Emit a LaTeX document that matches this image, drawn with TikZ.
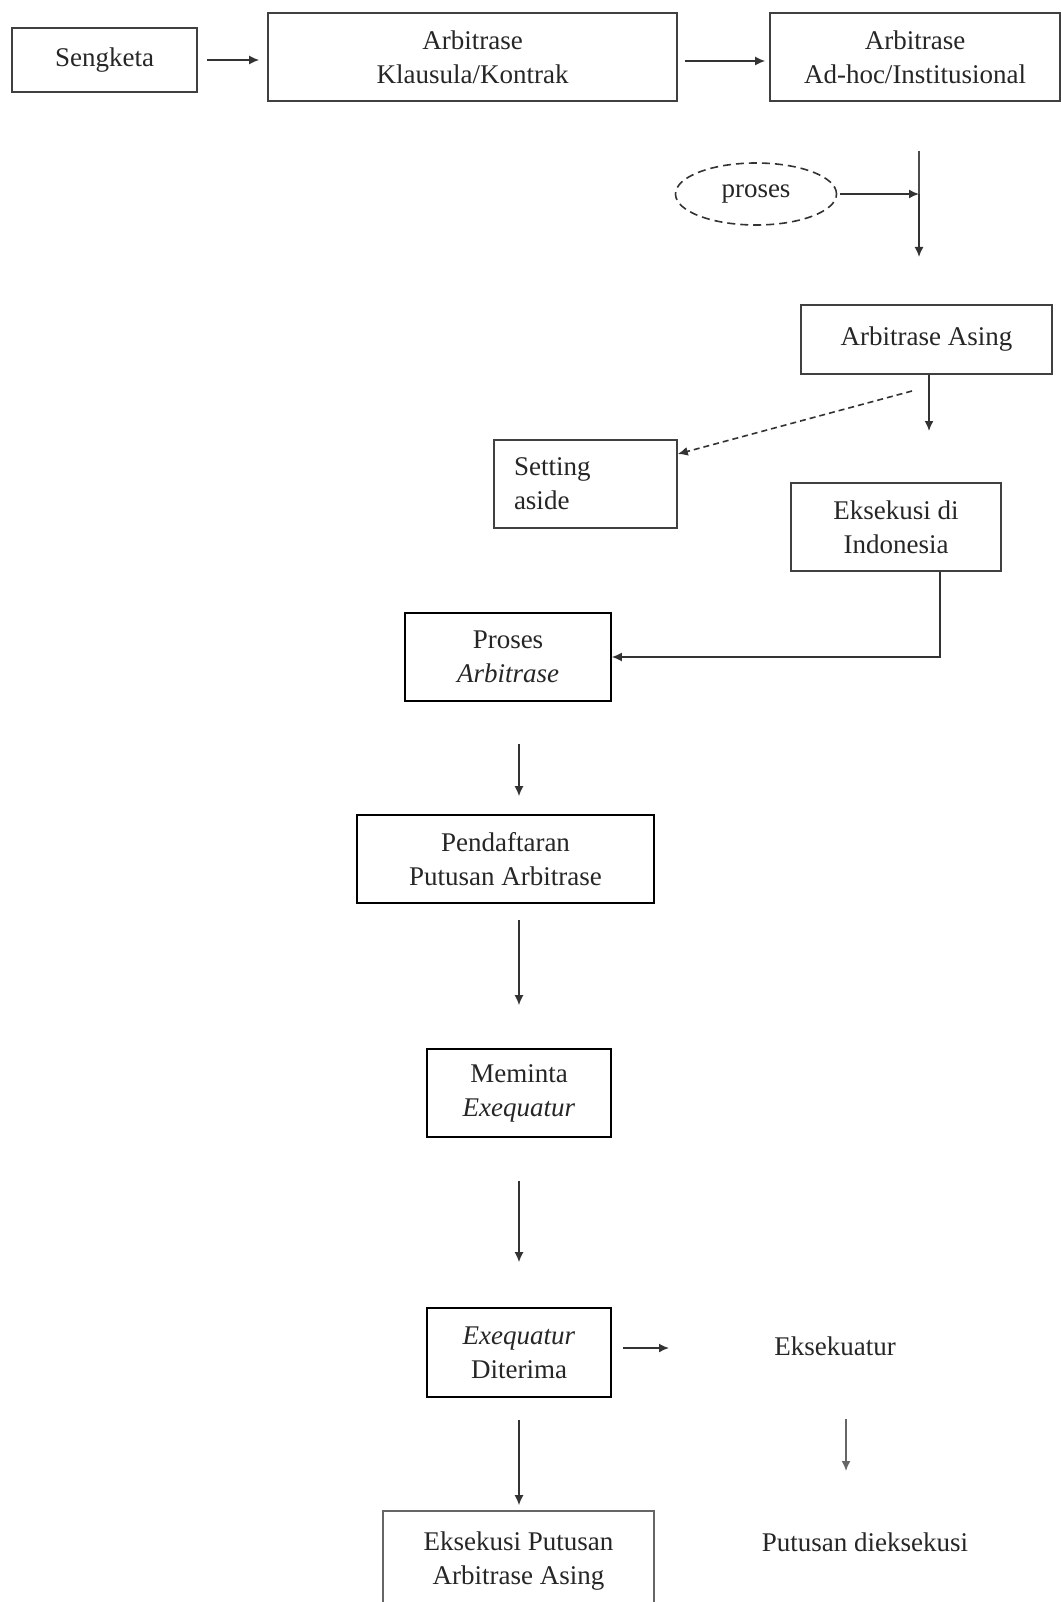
\documentclass[tikz,border=0pt]{standalone}
\usepackage{fontspec}
\setmainfont{Liberation Serif}
\usetikzlibrary{arrows.meta,shapes.geometric}
\begin{document}
\begin{tikzpicture}[x=1pt,y=-1pt,
  every node/.style={font=\fontsize{27}{34}\selectfont, text=black!85},
  box/.style={draw=black!75, line width=1.6pt, rectangle, align=center, inner sep=0pt},
  arr/.style={draw=black!80, line width=1.6pt, -{Latex[length=10pt,width=9pt]}},
  ln/.style={draw=black!70, line width=1.5pt}]
\useasboundingbox (0,0) rectangle (1060,1602);
% nodes
\node[box, minimum width=185, minimum height=64] (sg) at (104.5,60) {Sengketa};
\node[box, minimum width=409, minimum height=88] (kl) at (472.5,57) {Arbitrase\\Klausula/Kontrak};
\node[box, minimum width=290, minimum height=88] (ah) at (915,57) {Arbitrase\\Ad-hoc/Institusional};
\node[draw=black!80, line width=1.6pt, dash pattern=on 8pt off 5pt, ellipse, minimum width=161, minimum height=62, inner sep=0pt] (pr) at (756,194) {proses};
\node[box, minimum width=251, minimum height=69] (ar) at (926.5,339.5) {Arbitrase Asing};
\node[box, minimum width=183, minimum height=88, text width=143, align=left] (sa) at (585.5,484) {Setting\\aside};
\node[box, minimum width=210, minimum height=88] (ek) at (896,527) {Eksekusi di\\Indonesia};
\node[box, draw=black, minimum width=206, minimum height=88] (pa) at (508,657) {Proses\\\textit{Arbitrase}};
\node[box, draw=black, minimum width=297, minimum height=88] (pd) at (505.5,859) {Pendaftaran\\Putusan Arbitrase};
\node[box, draw=black, minimum width=184, minimum height=88] (mm) at (519,1093) {Meminta\\\textit{Exequatur}};
\node[box, draw=black, minimum width=184, minimum height=89] (dt) at (519,1352.5) {\textit{Exequatur}\\Diterima};
\node (eq) at (835,1346) {Eksekuatur};
\node (pu) at (865,1542) {Putusan dieksekusi};
\node[box, draw=black!60, minimum width=271, minimum height=101] (fe) at (518.5,1561.5) {Eksekusi Putusan\\Arbitrase Asing};
% helper coordinates
\coordinate (vt) at (919,151);
\coordinate (vj) at (919,194);
\coordinate (vb) at (919,257);
\coordinate (ad) at (929,431);
\coordinate (ds) at (912,391);
\coordinate (ec) at (940,657);
\coordinate (ax) at (519,0);
\coordinate (ex1) at (623,1348);
\coordinate (ex2) at (669,1348);
\coordinate (eqa) at (846,1419);
\coordinate (eqb) at (846,1471);
% connectors
\draw[arr, shorten <=9pt, shorten >=8pt] (sg.east) -- (sg.east -| kl.west);
\draw[arr, shorten <=7pt, shorten >=4pt] (kl.east |- 0,61) -- (ah.west |- 0,61);
\draw[arr, shorten <=3pt] (pr.east) -- (pr.east -| vj);
\draw[ln] (vt) -- (vj);
\draw[arr] (vj) -- (vb);
\draw[arr] (ar.south -| ad) -- (ad);
\draw[arr, dash pattern=on 6pt off 4pt] (ds) -- (sa.east |- 0,454);
\draw[arr] (ek.south -| ec) -- (ec) -- (pa.east |- ec);
\draw[arr, shorten <=42pt, shorten >=18pt] (pa.south -| ax) -- (pd.north -| ax);
\draw[arr, shorten <=16pt, shorten >=43pt] (pd.south -| ax) -- (mm.north -| ax);
\draw[arr, shorten <=43pt, shorten >=45pt] (mm.south -| ax) -- (dt.north -| ax);
\draw[arr, shorten <=22pt, shorten >=5pt] (dt.south -| ax) -- (fe.north -| ax);
\draw[arr] (ex1) -- (ex2);
\draw[arr, draw=black!60] (eqa) -- (eqb);
\end{tikzpicture}
\end{document}
